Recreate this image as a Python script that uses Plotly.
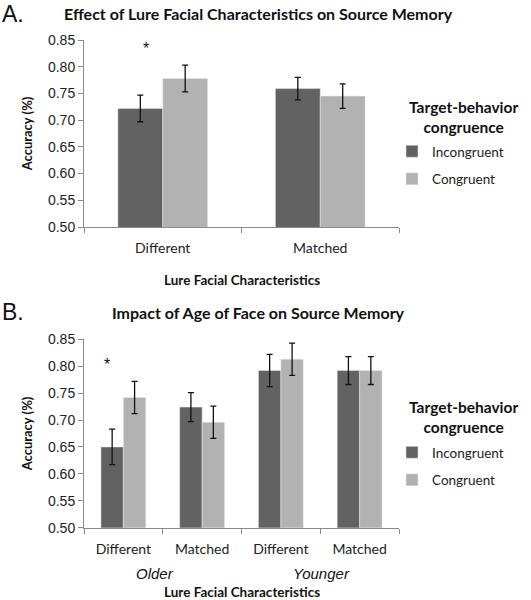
import plotly.graph_objects as go

# ---- data ----
cats_a = ["Different", "Matched"]
inc_a = [0.722, 0.759]
inc_a_err = [0.025, 0.021]
con_a = [0.778, 0.745]
con_a_err = [0.025, 0.023]

cats_b = ["Older Different", "Older Matched", "Younger Different", "Younger Matched"]
tick_b = ["Different", "Matched", "Different", "Matched"]
inc_b = [0.650, 0.724, 0.792, 0.792]
inc_b_err = [0.033, 0.027, 0.030, 0.026]
con_b = [0.742, 0.696, 0.813, 0.792]
con_b_err = [0.030, 0.030, 0.030, 0.026]

series_names = ["Incongruent", "Congruent"]
y_ticks = [0.50, 0.55, 0.60, 0.65, 0.70, 0.75, 0.80, 0.85]

DARK = "#626262"
LIGHT = "#b2b2b2"
W, H = 531, 600

fig = go.Figure()

def err(arr):
    return dict(type="data", array=arr, color="#111111", thickness=1.3, width=3)

fig.add_trace(go.Bar(x=cats_a, y=inc_a, name=series_names[0], marker_color=DARK,
                     error_y=err(inc_a_err), xaxis="x", yaxis="y", legend="legend",
                     legendgroup="a1"))
fig.add_trace(go.Bar(x=cats_a, y=con_a, name=series_names[1], marker_color=LIGHT,
                     error_y=err(con_a_err), xaxis="x", yaxis="y", legend="legend",
                     legendgroup="a2"))
fig.add_trace(go.Bar(x=cats_b, y=inc_b, name=series_names[0], marker_color=DARK,
                     error_y=err(inc_b_err), xaxis="x2", yaxis="y2", legend="legend2",
                     legendgroup="b1"))
fig.add_trace(go.Bar(x=cats_b, y=con_b, name=series_names[1], marker_color=LIGHT,
                     error_y=err(con_b_err), xaxis="x2", yaxis="y2", legend="legend2",
                     legendgroup="b2"))

tickfont = dict(family="Liberation Sans, Arial", size=14, color="#222")
catfont = dict(family="Lato, Open Sans", size=14, color="#222")
boldfont = dict(family="Lato, Open Sans", size=13, color="#111", weight="bold")

xdom = [84 / W, 399 / W]
ydom_a = [1 - 227 / H, 1 - 40 / H]
ydom_b = [1 - 527.7 / H, 1 - 339.3 / H]

axis_common = dict(showline=True, linecolor="#8a8a8a", linewidth=1, showgrid=False,
                   zeroline=False, ticks="outside", tickcolor="#8a8a8a", ticklen=5,
                   automargin=False)

legend_common = dict(xanchor="left", yanchor="top",
                     font=dict(family="Lato, Open Sans", size=13.5, color="#222"),
                     itemwidth=30, tracegroupgap=7, bgcolor="rgba(0,0,0,0)")

fig.update_layout(
    width=W, height=H,
    margin=dict(l=0, r=0, t=0, b=0, autoexpand=False),
    paper_bgcolor="white", plot_bgcolor="white",
    barmode="group", bargap=0.43, bargroupgap=0,
    xaxis=dict(domain=xdom, anchor="y", type="category", tickson="boundaries",
               tickfont=catfont, ticklabelstandoff=8, **axis_common),
    yaxis=dict(domain=ydom_a, anchor="x", range=[0.5, 0.85], tickvals=y_ticks,
               tickformat=".2f", tickfont=tickfont,
               title=dict(text="Accuracy (%)", font=boldfont, standoff=12), **axis_common),
    xaxis2=dict(domain=xdom, anchor="y2", type="category", tickson="boundaries",
                tickvals=cats_b, ticktext=tick_b, tickfont=catfont, ticklabelstandoff=8,
                **axis_common),
    yaxis2=dict(domain=ydom_b, anchor="x2", range=[0.5, 0.85], tickvals=y_ticks,
                tickformat=".2f", tickfont=tickfont,
                title=dict(text="Accuracy (%)", font=boldfont, standoff=12), **axis_common),
    legend=dict(x=392 / W, y=1 - 136 / H, **legend_common),
    legend2=dict(x=392 / W, y=1 - 437 / H, **legend_common),
    showlegend=True,
)

ann = []
panel_font = dict(family="Liberation Sans, Arial", size=23, color="#111")
title_font = dict(family="Lato, Open Sans", size=16, color="#111")
leg_title_font = dict(family="Lato, Open Sans", size=15.5, color="#111")
# panel labels
ann.append(dict(text="A.", x=0, y=1 - 14 / H, xref="paper", yref="paper", xanchor="left",
                yanchor="middle", showarrow=False, font=panel_font))
ann.append(dict(text="B.", x=0, y=1 - 312 / H, xref="paper", yref="paper", xanchor="left",
                yanchor="middle", showarrow=False, font=panel_font))
# titles
ann.append(dict(text="<b>Effect of Lure Facial Characteristics on Source Memory</b>",
                x=258 / W, y=1 - 13 / H, xref="paper", yref="paper", xanchor="center",
                yanchor="middle", showarrow=False, font=title_font))
ann.append(dict(text="<b>Impact of Age of Face on Source Memory</b>",
                x=258 / W, y=1 - 313 / H, xref="paper", yref="paper", xanchor="center",
                yanchor="middle", showarrow=False, font=title_font))
# legend titles
for yc in (117, 417):
    ann.append(dict(text="<b>Target-behavior<br>congruence</b>", x=463 / W, y=1 - yc / H,
                    xref="paper", yref="paper", xanchor="center", yanchor="middle",
                    showarrow=False, align="center", font=leg_title_font))
# x axis titles
ann.append(dict(text="<b>Lure Facial Characteristics</b>", x=242 / W, y=1 - 280 / H,
                xref="paper", yref="paper", xanchor="center", yanchor="middle",
                showarrow=False, font=dict(family="Lato, Open Sans", size=13.5, color="#111")))
ann.append(dict(text="<b>Lure Facial Characteristics</b>", x=242 / W, y=1 - 592 / H,
                xref="paper", yref="paper", xanchor="center", yanchor="middle",
                showarrow=False, font=dict(family="Lato, Open Sans", size=13.5, color="#111")))
# group labels
ann.append(dict(text="<i>Older</i>", x=155 / W, y=1 - 573 / H, xref="paper", yref="paper",
                xanchor="center", yanchor="middle", showarrow=False,
                font=dict(family="Liberation Sans, Arial", size=15, color="#111")))
ann.append(dict(text="<i>Younger</i>", x=321 / W, y=1 - 573 / H, xref="paper", yref="paper",
                xanchor="center", yanchor="middle", showarrow=False,
                font=dict(family="Liberation Sans, Arial", size=15, color="#111")))
# significance stars
ann.append(dict(text="*", x=cats_a[0], y=0.835, xref="x", yref="y", xshift=-17,
                showarrow=False, font=dict(family="Liberation Sans, Arial", size=16, color="#111")))
ann.append(dict(text="*", x=cats_b[0], y=0.803, xref="x2", yref="y2", xshift=-16,
                showarrow=False, font=dict(family="Liberation Sans, Arial", size=16, color="#111")))
fig.update_layout(annotations=ann)

fig.write_html("out.html", config={"displayModeBar": False},
               post_script="document.body.style.margin='0';document.body.style.overflow='hidden';")
